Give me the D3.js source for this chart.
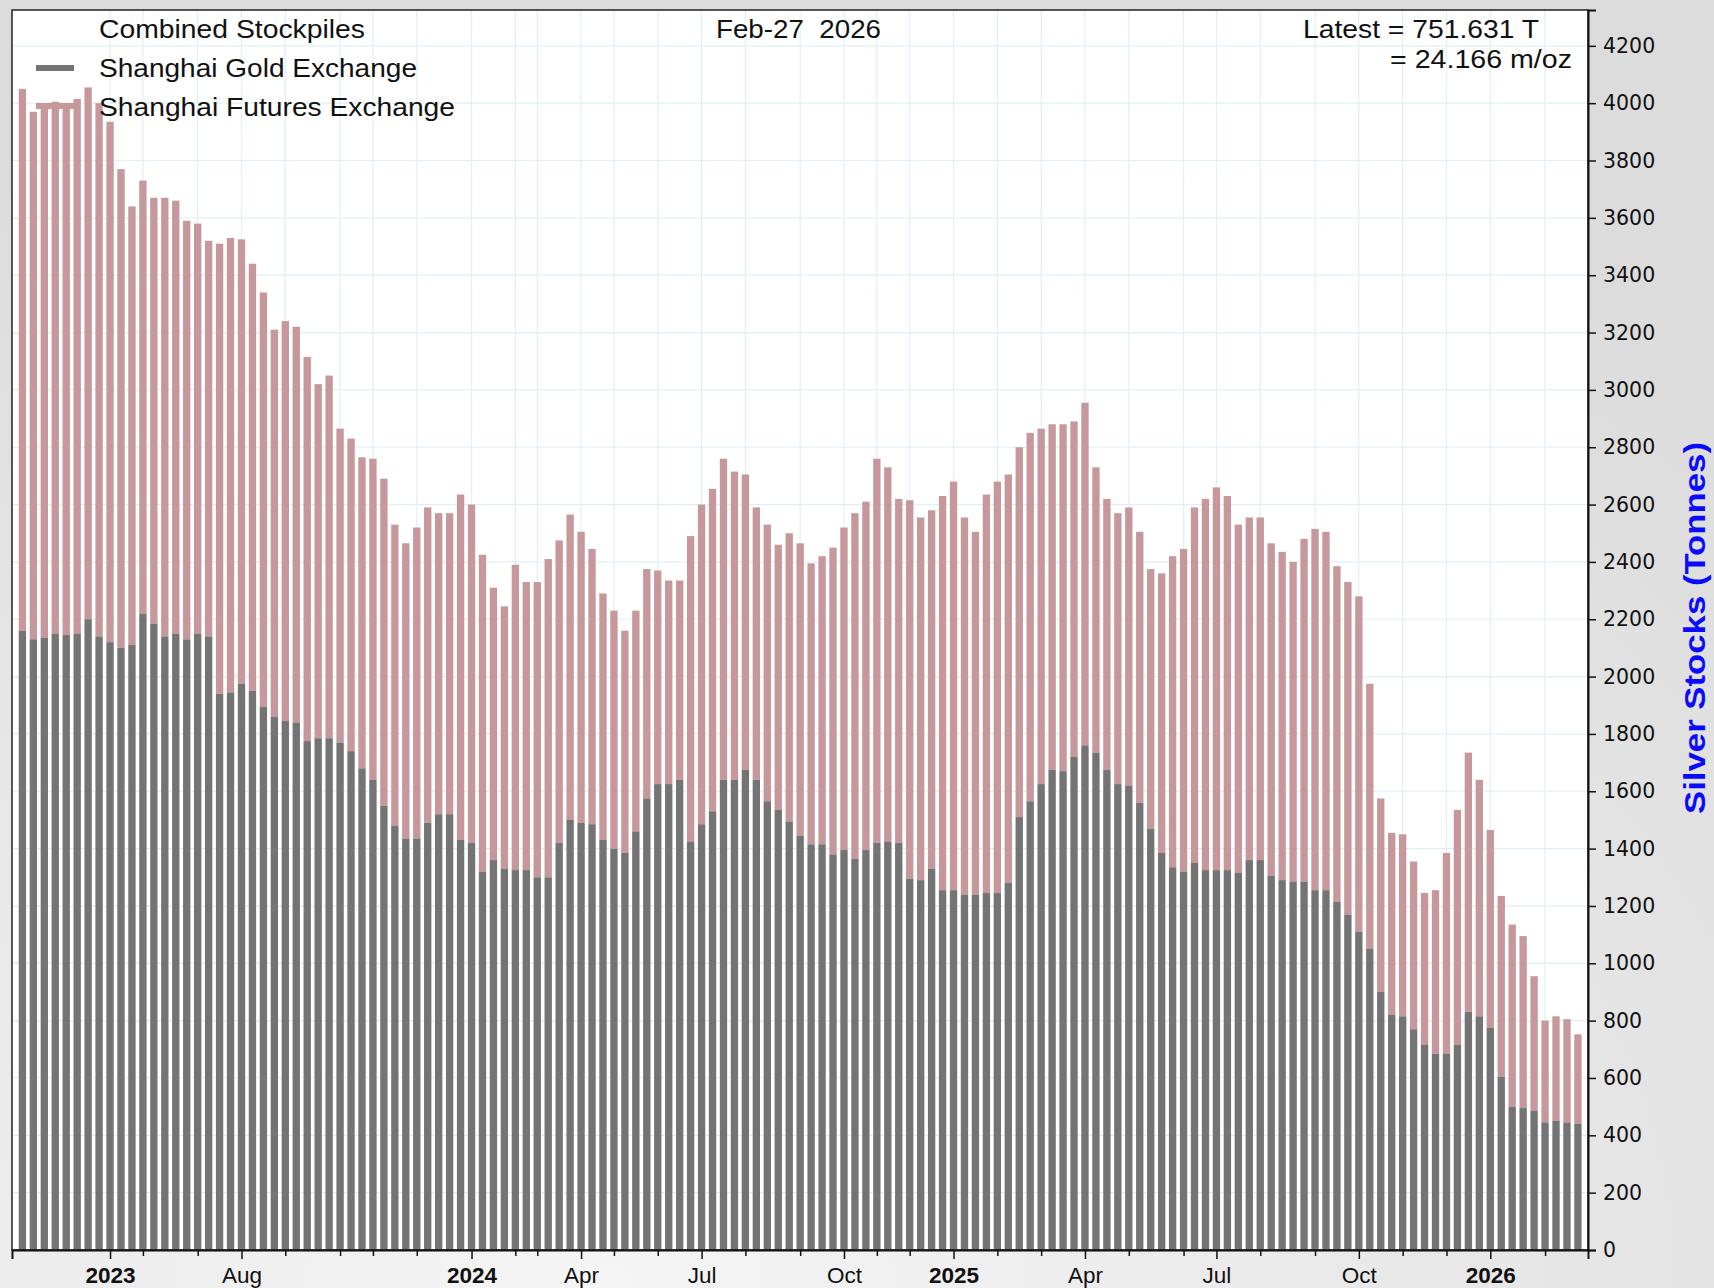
<!DOCTYPE html>
<meta charset="utf-8">
<style>
  body { margin: 0; }
  svg { display: block; font-family: 'Liberation Sans', Arial, sans-serif; }
  .tick text { fill: #111; }
</style>
<script src="https://d3js.org/d3.v7.min.js"></script>
<body>
<svg id="chart" width="1714" height="1288"></svg>
<script>

// Combined (SGE + SHFE) silver stockpiles and the SGE part, tonnes, one value per bar
var combined = [4050,3970,4000,4005,4000,4015,4055,4000,3935,3770,3640,3730,3670,3670,3660,3590,3580,3520,3510,3530,
  3525,3440,3340,3210,3240,3220,3115,3020,3050,2865,2830,2765,2760,2690,2530,2465,2520,2590,2570,2570,
  2635,2600,2425,2310,2245,2390,2330,2330,2410,2475,2565,2505,2445,2290,2230,2160,2230,2375,2370,2335,
  2335,2490,2600,2655,2760,2715,2705,2590,2530,2460,2500,2465,2395,2420,2450,2520,2570,2610,2760,2730,
  2620,2615,2555,2580,2630,2680,2555,2505,2635,2680,2705,2800,2850,2865,2880,2880,2890,2955,2730,2620,
  2570,2590,2505,2375,2360,2420,2445,2590,2620,2660,2630,2530,2555,2555,2465,2435,2400,2480,2515,2505,
  2385,2330,2280,1975,1575,1455,1450,1355,1245,1255,1385,1535,1735,1640,1465,1235,1135,1095,955,800,
  815,805,752];
var sge = [2160,2130,2135,2150,2145,2150,2200,2140,2120,2100,2110,2220,2185,2140,2150,2130,2150,2140,1940,1945,
  1975,1950,1895,1860,1845,1840,1775,1785,1785,1770,1740,1680,1640,1550,1480,1435,1435,1490,1520,1520,
  1430,1420,1320,1360,1330,1325,1325,1300,1300,1420,1500,1490,1485,1430,1400,1385,1460,1575,1625,1625,
  1640,1425,1485,1530,1640,1640,1675,1640,1565,1535,1495,1445,1415,1415,1380,1395,1365,1395,1420,1425,
  1420,1295,1290,1330,1255,1255,1240,1240,1245,1245,1280,1510,1565,1625,1675,1670,1720,1760,1735,1675,
  1625,1620,1560,1470,1385,1335,1320,1350,1325,1325,1325,1315,1360,1360,1305,1290,1285,1285,1255,1255,
  1215,1170,1110,1050,900,820,815,770,715,685,685,715,830,815,775,605,500,495,485,445,
  450,445,440];

// x axis ticks, placed on the bar where the month starts (bar index)
var majorTickAt = [8, 20, 41, 51, 62, 75, 85, 97, 109, 122, 134];
var majorTickLabels = ["2023", "Aug", "2024", "Apr", "Jul", "Oct", "2025", "Apr", "Jul", "Oct", "2026"];
var minorTickAt = [11, 16, 24, 29, 32, 36, 45, 47, 54, 58, 66, 71, 78, 81, 89, 93, 101, 106, 113, 118, 126, 130, 139];
var yTickValues = d3.range(0, 4201, 200);

var svg = d3.select("#chart");
var plotL = 12, plotR = 1588, plotT = 10, plotB = 1250;

// page background
var defs = svg.append("defs");
var grad = defs.append("radialGradient").attr("id", "bg")
  .attr("cx", "35%").attr("cy", "100%").attr("r", "95%");
grad.append("stop").attr("offset", "0%").attr("stop-color", "#f5f5f5");
grad.append("stop").attr("offset", "100%").attr("stop-color", "#dcdcdc");
svg.append("rect").attr("width", 1714).attr("height", 1288).attr("fill", "url(#bg)");

var x = d3.scaleLinear().domain([-0.95, 142.92]).range([plotL, plotR]);
var y = d3.scaleLinear().domain([0, 4325]).range([plotB, plotT]);
var barW = (x(1) - x(0)) * 0.67;

svg.append("rect")
  .attr("x", plotL).attr("y", plotT)
  .attr("width", plotR - plotL).attr("height", plotB - plotT)
  .attr("fill", "#fff");

// grid
var grid = svg.append("g").attr("stroke", "#e2eff8").attr("stroke-width", 1.2);
grid.selectAll(".hg").data(yTickValues.slice(1)).enter().append("line")
  .attr("x1", plotL).attr("x2", plotR)
  .attr("y1", d => y(d)).attr("y2", d => y(d));
grid.selectAll(".vg").data(majorTickAt.concat(minorTickAt)).enter().append("line")
  .attr("y1", plotT).attr("y2", plotB)
  .attr("x1", d => x(d)).attr("x2", d => x(d));

// bars: SHFE (pink) on top of SGE (gray)
svg.append("g").selectAll("rect").data(combined).enter().append("rect")
  .attr("x", (d, i) => x(i) - barW / 2)
  .attr("width", barW)
  .attr("y", d => y(d))
  .attr("height", (d, i) => y(sge[i]) - y(d))
  .attr("fill", "#c6989b");
svg.append("g").selectAll("rect").data(sge).enter().append("rect")
  .attr("x", (d, i) => x(i) - barW / 2)
  .attr("width", barW)
  .attr("y", d => y(d))
  .attr("height", d => plotB - y(d))
  .attr("fill", "#747474");

// frame
svg.append("rect")
  .attr("x", plotL).attr("y", plotT)
  .attr("width", plotR - plotL).attr("height", plotB - plotT)
  .attr("fill", "none").attr("stroke", "#222").attr("stroke-width", 1.5);

// right y axis
var yAxis = svg.append("g")
  .attr("transform", `translate(${plotR},0)`)
  .call(d3.axisRight(y).tickValues(yTickValues).tickSize(8).tickPadding(7).tickFormat(d3.format("d")))
  .attr("font-family", "'DejaVu Sans', Verdana, sans-serif")
  .attr("font-size", 20.5);
yAxis.select(".domain").attr("stroke", "#111").attr("stroke-width", 2);
yAxis.selectAll(".tick line").attr("stroke", "#111").attr("stroke-width", 1.5);

// bottom x axis
var xAxisMinor = svg.append("g")
  .attr("transform", `translate(0,${plotB})`)
  .call(d3.axisBottom(x).tickValues(minorTickAt).tickSize(6).tickFormat(""));
xAxisMinor.select(".domain").remove();
xAxisMinor.selectAll(".tick line").attr("stroke", "#111").attr("stroke-width", 1.5);

var xAxis = svg.append("g")
  .attr("transform", `translate(0,${plotB})`)
  .call(d3.axisBottom(x).tickValues(majorTickAt).tickSize(9).tickPadding(8)
    .tickFormat((d, i) => majorTickLabels[i]))
  .attr("font-family", "'Liberation Sans', Arial, sans-serif")
  .attr("font-size", 22.5);
xAxis.select(".domain").attr("stroke", "#111").attr("stroke-width", 2);
xAxis.selectAll(".tick line").attr("stroke", "#111").attr("stroke-width", 1.5);
xAxis.selectAll(".tick text")
  .attr("font-weight", (d, i) => /^\d+$/.test(majorTickLabels[i]) ? "bold" : "normal");

// legend and header texts
var narrow = "'Liberation Sans Narrow', 'Arial Narrow', 'Liberation Sans', sans-serif";
svg.append("line").attr("x1", 36).attr("x2", 74).attr("y1", 68).attr("y2", 68)
  .attr("stroke", "#747474").attr("stroke-width", 6);
svg.append("line").attr("x1", 36).attr("x2", 74).attr("y1", 106).attr("y2", 106)
  .attr("stroke", "#c6989b").attr("stroke-width", 6);

var headers = [
  {t: "Combined Stockpiles", x: 99, y: 38, w: 266},
  {t: "Shanghai Gold Exchange", x: 99, y: 77, w: 318},
  {t: "Shanghai Futures Exchange", x: 99, y: 116, w: 356},
  {t: "Feb-27  2026", x: 716, y: 38, w: 165},
  {t: "Latest = 751.631 T", x: 1303, y: 38, w: 236},
  {t: "= 24.166 m/oz", x: 1390, y: 68, w: 182}
];
svg.append("g").selectAll("text").data(headers).enter().append("text")
  .attr("x", d => d.x).attr("y", d => d.y)
  .attr("textLength", d => d.w).attr("lengthAdjust", "spacingAndGlyphs")
  .attr("font-family", narrow).attr("font-size", 26).attr("fill", "#111")
  .style("white-space", "pre")
  .text(d => d.t);

// y axis title
svg.append("text")
  .attr("transform", "translate(1694,628) rotate(-90)")
  .attr("text-anchor", "middle").attr("dy", "0.35em")
  .attr("font-size", 30).attr("font-weight", "bold").attr("fill", "#0a0aff")
  .attr("textLength", 372).attr("lengthAdjust", "spacingAndGlyphs")
  .text("Silver Stocks (Tonnes)");

</script>
</body>
